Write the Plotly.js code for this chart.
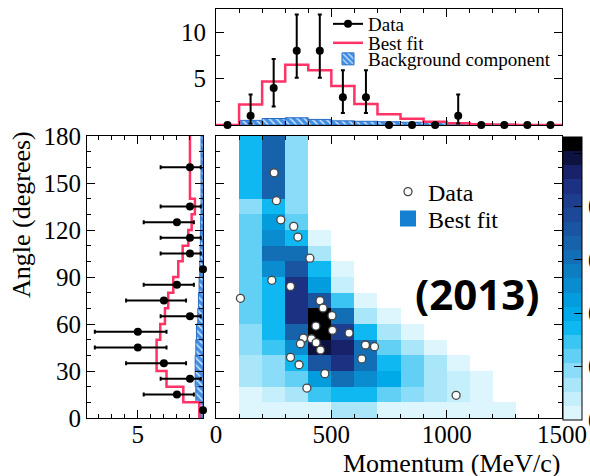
<!DOCTYPE html>
<html><head><meta charset="utf-8">
<script src="https://cdn.plot.ly/plotly-3.0.1.min.js"></script>
<style>html,body{margin:0;padding:0;background:#fff}#chart{width:590px;height:476px}</style>
</head><body><div id="chart"></div>
<script>
// ---------- binning ----------
const momentumEdges   = [0,100,200,300,400,500,600,700,800,900,1000,1100,1200,1300,1400,1500];
const momentumCenters = [50,150,250,350,450,550,650,750,850,950,1050,1150,1250,1350,1450];
const angleEdges   = [0,10,20,30,40,50,60,70,80,90,100,110,120,130,140,180];
const angleCenters = [5,15,25,35,45,55,65,75,85,95,105,115,125,135,160];
const angleWidths  = [10,10,10,10,10,10,10,10,10,10,10,10,10,10,40];

// ---------- momentum projection (top) ----------
const momentumCounts  = [0,1,4,8,8,3,3,0,0,0,1,0,0,0,0];
const momentumErrUp   = [0,2.3,3.1,3.9,3.9,2.9,2.9,0,0,0,2.3,0,0,0,0];
const momentumErrDown = [0,0.83,2.0,2.9,2.9,1.7,1.7,0,0,0,0.83,0,0,0,0];
const momentumFit     = [0,2.2,4.7,6.5,5.9,4.2,2.25,1.16,0.68,0.36,0.18,0.08,0.03,0.01,0];
const momentumBkg     = [0,0.5,0.7,0.78,0.6,0.45,0.4,0.35,0.3,0.25,0.2,0.15,0.1,0,0];

// ---------- angle projection (left) ----------
const angleCounts  = [0,2,1,3,5,5,1,3,2,0,1,1,2,1,1];
const angleErrUp   = [0,2.55,2.25,2.9,3.3,3.3,2.25,2.9,2.55,0,2.25,2.25,2.55,2.25,2.25];
const angleErrDown = [0,1.3,0.83,1.7,2.2,2.2,0.83,1.7,1.3,0,0.83,0.83,1.3,0.83,0.83];
const angleFit     = [0.28,1.51,2.8,3.56,3.56,3.28,2.92,2.67,2.28,1.9,1.56,1.13,0.87,0.62,1.0];
const angleBkg     = [0.3,0.55,0.6,0.6,0.55,0.5,0.4,0.35,0.3,0.25,0.22,0.2,0.18,0.15,0.15];

// ---------- 2D best fit (rows: angle bins from 0, cols: momentum bins from 0) ----------
const n = null;
const fitZ = [
 [n,0.03,0.03,0.03,0.03,0.13,0.13,0.03,0.03,0.03,0.03,0.03,0.03,n,n],
 [n,0.03,0.08,0.13,0.29,0.34,0.34,0.24,0.19,0.13,0.08,0.03,n,n,n],
 [n,0.13,0.19,0.24,0.45,0.61,0.50,0.40,0.24,0.13,0.08,0.03,n,n,n],
 [n,0.13,0.19,0.34,0.72,0.87,0.61,0.34,0.24,0.13,0.03,n,n,n,n],
 [n,0.19,0.29,0.50,0.98,0.93,0.61,0.24,0.13,0.03,n,n,n,n,n],
 [n,0.19,0.34,0.66,1.03,0.82,0.34,0.13,0.03,n,n,n,n,n,n],
 [n,0.24,0.34,0.87,1.03,0.61,0.13,0.03,n,n,n,n,n,n,n],
 [n,0.24,0.34,0.87,0.72,0.29,0.03,n,n,n,n,n,n,n,n],
 [n,0.24,0.34,0.87,0.45,0.08,n,n,n,n,n,n,n,n,n],
 [n,0.24,0.50,0.72,0.34,0.03,n,n,n,n,n,n,n,n,n],
 [n,0.24,0.61,0.61,0.13,n,n,n,n,n,n,n,n,n,n],
 [n,0.24,0.50,0.34,0.03,n,n,n,n,n,n,n,n,n,n],
 [n,0.24,0.45,0.24,n,n,n,n,n,n,n,n,n,n,n],
 [n,0.19,0.34,0.19,n,n,n,n,n,n,n,n,n,n,n],
 [n,0.34,0.66,0.19,n,n,n,n,n,n,n,n,n,n,n]
];

// ---------- observed events ----------
const eventMomentum = [252,262,281,337,355,407,242,323,106,451,464,503,433,505,577,379,414,366,434,453,648,687,632,323,360,472,394,1041];
const eventAngle    = [156.5,138.7,126.5,122.3,115.5,102,87.9,84,76.4,74.9,70.2,65.3,58.7,56,54.2,51,50.6,47.4,48.1,43.4,46.6,45.5,37.7,38.7,34,28.3,19.1,14.5];

// ---------- palette ----------
const paletteColors = ['#ddf5fd','#c6effc','#a9e6fa','#8adcf8','#62d0f5','#3ac5f3','#0fb8f0','#00aae8','#039cdd','#0a8dd0',
                       '#0e7ec3','#126fb6','#1662ab','#1955a1','#1b4997','#1d3d8d','#1d3183','#18226a','#0d1240','#000000'];
const zMax = 1.06;
const colorscale = [];
paletteColors.forEach((c,i)=>{ colorscale.push([i/paletteColors.length,c]); colorscale.push([(i+1)/paletteColors.length,c]); });

const W = 590, H = 476;
const px = v => v / W, py = v => 1 - v / H;
const SERIF = '"Liberation Serif", "Times New Roman", Times, serif';
const fitRed = '#ff3366';
const bkgBlue = '#3f8fe4';
const bkgPattern = {shape:'\\', fgcolor:'#cfe3fb', bgcolor:bkgBlue, size:5, solidity:0.3};

const traces = [];
// heatmap
traces.push({type:'heatmap', x:momentumEdges, y:angleEdges, z:fitZ, xaxis:'x', yaxis:'y',
  zmin:0, zmax:zMax, colorscale:colorscale, hoverongaps:false, showlegend:false,
  colorbar:{x:px(563), xanchor:'left', xpad:0, thickness:19, thicknessmode:'pixels',
    len:283/H, lenmode:'fraction', y:py(420), yanchor:'bottom', ypad:0,
    outlinewidth:1, outlinecolor:'#000', tickvals:[0,0.2,0.4,0.6,0.8,1], ticktext:['0','0.2','0.4','0.6','0.8','1'],
    ticks:'inside', ticklen:8, tickcolor:'#000', tickfont:{family:SERIF,size:25,color:'#000'}}});
// main data points
traces.push({type:'scatter', mode:'markers', x:eventMomentum, y:eventAngle, xaxis:'x', yaxis:'y', name:'Data', legend:'legend4',
  marker:{color:'#fff', size:8, line:{color:'#444', width:1.3}}, cliponaxis:false});
// main legend: best fit swatch
traces.push({type:'scatter', mode:'markers', x:[null], y:[null], xaxis:'x', yaxis:'y', name:'Best fit', legend:'legend5',
  marker:{color:'#1680d0', symbol:'square', size:22}});

// top: background
traces.push({type:'bar', x:momentumCenters, y:momentumBkg, width:100, xaxis:'x2', yaxis:'y2', name:'Background component', legend:'legend3',
  marker:{color:bkgBlue, line:{color:'#2a6cc4', width:1}, pattern:bkgPattern}});
// top: fit
traces.push({type:'scatter', mode:'lines', x:momentumEdges, y:momentumFit.concat([momentumFit[momentumFit.length-1]]), xaxis:'x2', yaxis:'y2',
  name:'Best fit', legend:'legend2', line:{color:fitRed, width:2.5, shape:'hv'}});
// top: data
traces.push({type:'scatter', mode:'markers', x:momentumCenters, y:momentumCounts, xaxis:'x2', yaxis:'y2', showlegend:false, cliponaxis:false,
  marker:{color:'#000', size:8},
  error_y:{type:'data', symmetric:false, array:momentumErrUp, arrayminus:momentumErrDown, color:'#000', thickness:2, width:2}});
traces.push({type:'scatter', mode:'lines+markers', x:[null], y:[null], xaxis:'x2', yaxis:'y2', name:'Data', legend:'legend',
  marker:{color:'#000', size:8}, line:{color:'#000', width:2}});

// left: background
traces.push({type:'bar', orientation:'h', y:angleCenters, x:angleBkg, width:angleWidths, xaxis:'x3', yaxis:'y3', showlegend:false,
  marker:{color:bkgBlue, line:{color:'#2a6cc4', width:1}, pattern:bkgPattern}});
// left: fit
traces.push({type:'scatter', mode:'lines', x:angleFit.concat([angleFit[angleFit.length-1]]), y:angleEdges, xaxis:'x3', yaxis:'y3', showlegend:false,
  line:{color:fitRed, width:2.5, shape:'vh'}});
// left: data
traces.push({type:'scatter', mode:'markers', x:angleCounts, y:angleCenters, xaxis:'x3', yaxis:'y3', showlegend:false, cliponaxis:false,
  marker:{color:'#000', size:8},
  error_x:{type:'data', symmetric:false, array:angleErrUp, arrayminus:angleErrDown, color:'#000', thickness:2, width:2}});

const tickFont = () => ({family:SERIF, size:25, color:'#000'});
const baseAxis = () => ({showline:true, linecolor:'#000', linewidth:1, mirror:'allticks', ticks:'inside', ticklen:8, tickcolor:'#000',
  showgrid:false, zeroline:false, tickfont:tickFont(), fixedrange:true, automargin:false});
const minorTicks = d => ({dtick:d, ticks:'inside', ticklen:4, tickcolor:'#000', showgrid:false});

const legendBase = {xanchor:'left', yanchor:'middle', bgcolor:'rgba(0,0,0,0)', borderwidth:0};
const layout = {
  width:W, height:H, margin:{l:0,r:0,t:0,b:0,pad:0,autoexpand:false}, paper_bgcolor:'#fff', plot_bgcolor:'#fff',
  font:{family:SERIF, color:'#000'}, barmode:'overlay', bargap:0, showlegend:true,
  xaxis: Object.assign(baseAxis(), {domain:[px(216), px(562)], range:[0,1500], anchor:'y', tick0:0, dtick:500, minor:minorTicks(100), ticklabelstandoff:-6}),
  yaxis: Object.assign(baseAxis(), {domain:[py(418), py(136)], range:[0,180], anchor:'x', tick0:0, dtick:30, showticklabels:false, minor:minorTicks(10)}),
  xaxis2: Object.assign(baseAxis(), {domain:[px(216), px(562)], range:[0,1500], anchor:'y2', tick0:0, dtick:500, showticklabels:false, minor:minorTicks(100)}),
  yaxis2: Object.assign(baseAxis(), {domain:[py(125), py(9)], range:[0,12.5], anchor:'x2', tickvals:[5,10], minor:Object.assign(minorTicks(2.5),{tick0:0}), ticklabelstandoff:4}),
  xaxis3: Object.assign(baseAxis(), {domain:[px(87), px(203)], range:[8.9,0], anchor:'y3', tickvals:[5], minor:Object.assign(minorTicks(1),{tick0:0}), ticklabelstandoff:-6}),
  yaxis3: Object.assign(baseAxis(), {domain:[py(418), py(136)], range:[0,180], anchor:'x3', tick0:0, dtick:30, minor:minorTicks(10)}),
  legend:  Object.assign({}, legendBase, {x:px(328), y:py(24), font:{family:SERIF, size:19, color:'#000'}}),
  legend2: Object.assign({}, legendBase, {x:px(328), y:py(43), font:{family:SERIF, size:19, color:'#000'}}),
  legend3: Object.assign({}, legendBase, {x:px(328), y:py(59), font:{family:SERIF, size:19, color:'#000'}}),
  legend4: Object.assign({}, legendBase, {x:px(388), y:py(192), font:{family:SERIF, size:24, color:'#000'}}),
  legend5: Object.assign({}, legendBase, {x:px(388), y:py(219), font:{family:SERIF, size:24, color:'#000'}}),
  annotations:[
    {text:'Momentum (MeV/c)', xref:'paper', yref:'paper', x:px(562), y:py(463), xanchor:'right', yanchor:'middle', showarrow:false,
     font:{family:SERIF, size:26, color:'#000'}},
    {text:'Angle (degrees)', xref:'paper', yref:'paper', x:px(22), y:py(215), xanchor:'center', yanchor:'middle', showarrow:false, textangle:-90,
     font:{family:SERIF, size:26, color:'#000'}},
    {text:'<b>(2013)</b>', xref:'paper', yref:'paper', x:px(477), y:py(293), xanchor:'center', yanchor:'middle', showarrow:false,
     font:{family:'Open Sans', size:42, color:'#000'}}
  ]
};
Plotly.newPlot('chart', traces, layout, {displayModeBar:false, staticPlot:true});
</script></body></html>
